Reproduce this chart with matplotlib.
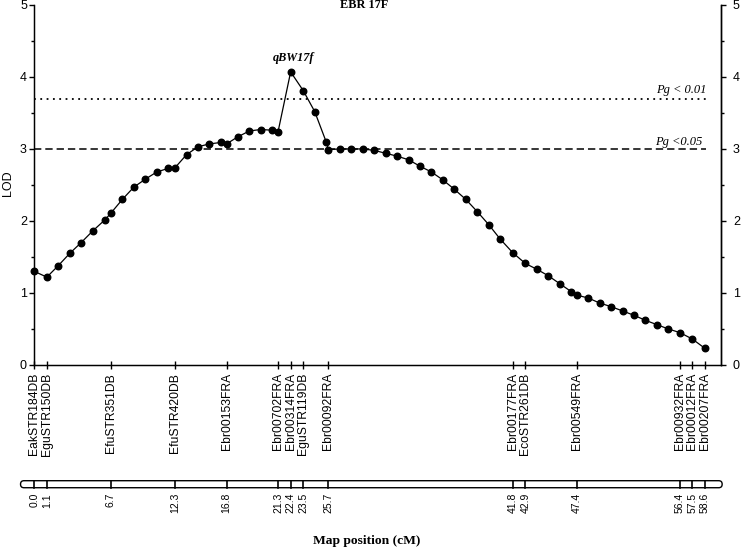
import matplotlib.pyplot as plt
from matplotlib.patches import FancyBboxPatch
from matplotlib.ticker import MultipleLocator

# LOD profile along the linkage group (cM, LOD)
positions = [0.0, 1.1, 2.1, 3.1, 4.1, 5.1, 6.2, 6.7, 7.7, 8.7, 9.7, 10.7, 11.7, 12.3,
             13.3, 14.3, 15.3, 16.3, 16.8, 17.8, 18.8, 19.8, 20.8, 21.3, 22.4, 23.5,
             24.5, 25.5, 25.7, 26.7, 27.7, 28.7, 29.7, 30.7, 31.7, 32.7, 33.7, 34.7,
             35.7, 36.7, 37.7, 38.7, 39.7, 40.7, 41.8, 42.9, 43.9, 44.9, 45.9, 46.9,
             47.4, 48.4, 49.4, 50.4, 51.4, 52.4, 53.4, 54.4, 55.4, 56.4, 57.5, 58.6]
lod = [1.30, 1.22, 1.38, 1.55, 1.70, 1.86, 2.02, 2.11, 2.30, 2.47, 2.58, 2.68, 2.73, 2.74,
       2.92, 3.03, 3.07, 3.09, 3.07, 3.17, 3.25, 3.27, 3.26, 3.24, 4.07, 3.81,
       3.52, 3.10, 2.99, 3.00, 3.00, 3.00, 2.98, 2.94, 2.90, 2.85, 2.76, 2.68,
       2.57, 2.44, 2.30, 2.13, 1.95, 1.75, 1.56, 1.41, 1.33, 1.24, 1.13, 1.02,
       0.97, 0.93, 0.86, 0.81, 0.75, 0.69, 0.62, 0.56, 0.50, 0.45, 0.36, 0.23]

marker_names = ['EakSTR184DB', 'EguSTR150DB', 'EfuSTR351DB', 'EfuSTR420DB', 'Ebr00153FRA',
                'Ebr00702FRA', 'Ebr00314FRA', 'EguSTR119DB', 'Ebr00092FRA', 'Ebr00177FRA',
                'EcoSTR261DB', 'Ebr00549FRA', 'Ebr00932FRA', 'Ebr00012FRA', 'Ebr00207FRA']
marker_pos = [0.0, 1.1, 6.7, 12.3, 16.8, 21.3, 22.4, 23.5, 25.7, 41.8, 42.9, 47.4,
              56.4, 57.5, 58.6]

thr_01 = 3.70
thr_05 = 3.00

sans = 'Liberation Sans'
serif = 'Liberation Serif'

fig = plt.figure(figsize=(7.42, 5.48), dpi=100)
left, width = 0.0462, 0.9255
ax = fig.add_axes([left, 0.334, width, 0.657])

ax.plot(positions, lod, color='black', linewidth=0.9, marker='o', markersize=4.7,
        clip_on=False, zorder=3)

ax.plot([0, 58.7], [thr_01, thr_01], color='black', linewidth=1.3, linestyle=(0, (1, 2.5)))
ax.plot([0, 58.7], [thr_05, thr_05], color='black', linewidth=1.1, linestyle=(0, (4.8, 2.6)))

ax.text(58.75, thr_01 + 0.03, 'Pg < 0.01', family=serif, style='italic', fontsize=9,
        ha='right', va='bottom')
ax.text(58.4, thr_05 + 0.02, 'Pg <0.05', family=serif, style='italic', fontsize=9,
        ha='right', va='bottom')
ax.text(22.63, 4.26, 'qBW17f', family=serif, style='italic', weight='bold', fontsize=8.8,
        ha='center', va='center')

ax.set_xlim(0, 60)
ax.set_ylim(0, 5)
ax.spines['top'].set_visible(False)
for s in ax.spines.values():
    s.set_linewidth(1.0)

ax.set_xticks(marker_pos)
ax.set_xticklabels([])
ax.tick_params(axis='x', direction='inout', length=6, width=1)

ax.yaxis.set_major_locator(MultipleLocator(1))
ax.yaxis.set_minor_locator(MultipleLocator(0.5))
ax.tick_params(axis='y', which='major', direction='out', length=3.8, width=1, pad=1.5,
               labelsize=9)
ax.tick_params(axis='y', which='minor', direction='out', length=2.5, width=1)
for lab in ax.get_yticklabels():
    lab.set_family(sans)

axr = ax.twinx()
axr.set_ylim(0, 5)
axr.spines['top'].set_visible(False)
axr.spines['right'].set_linewidth(1.0)
axr.yaxis.set_major_locator(MultipleLocator(1))
axr.yaxis.set_minor_locator(MultipleLocator(0.5))
axr.tick_params(axis='y', which='major', direction='out', length=3.6, width=1, pad=5,
                labelsize=9)
axr.tick_params(axis='y', which='minor', direction='out', length=2.2, width=1)
for lab in axr.get_yticklabels():
    lab.set_family(sans)

# marker names under the axis
for name, p in zip(marker_names, marker_pos):
    ax.annotate(name, xy=(p, 0), xycoords=('data', 'axes fraction'),
                xytext=(0, -8), textcoords='offset pixels', rotation=90,
                ha='center', va='top', family=sans, fontsize=8.7)

# map bar with cM positions
bar = fig.add_axes([left, 0.110, width, 0.0128])
bar.set_xlim(0, 60)
bar.set_ylim(0, 1)
bar.axis('off')
box = FancyBboxPatch((-1.2, 0), 61.3, 1, boxstyle='round,pad=0,rounding_size=0.3',
                     mutation_aspect=1.6, facecolor='white', edgecolor='black',
                     linewidth=1.0, clip_on=False)
bar.add_patch(box)
for p in marker_pos:
    bar.plot([p, p], [0, 1], color='black', linewidth=1.2, clip_on=False)
    bar.text(p, -0.75, f'{p:.1f}', rotation=90, ha='center', va='top',
             family=sans, fontsize=7.5)

fig.text(0.491, 0.990, 'EBR 17F', family=serif, weight='bold', fontsize=8.8,
         ha='center', va='center')
fig.text(0.494, 0.013, 'Map position (cM)', family=serif, weight='bold', fontsize=9.7,
         ha='center', va='center')
fig.text(0.011, 0.665, 'LOD', family=sans, fontsize=9, rotation=90,
         ha='center', va='center')

fig.savefig('out.png', dpi=100)
